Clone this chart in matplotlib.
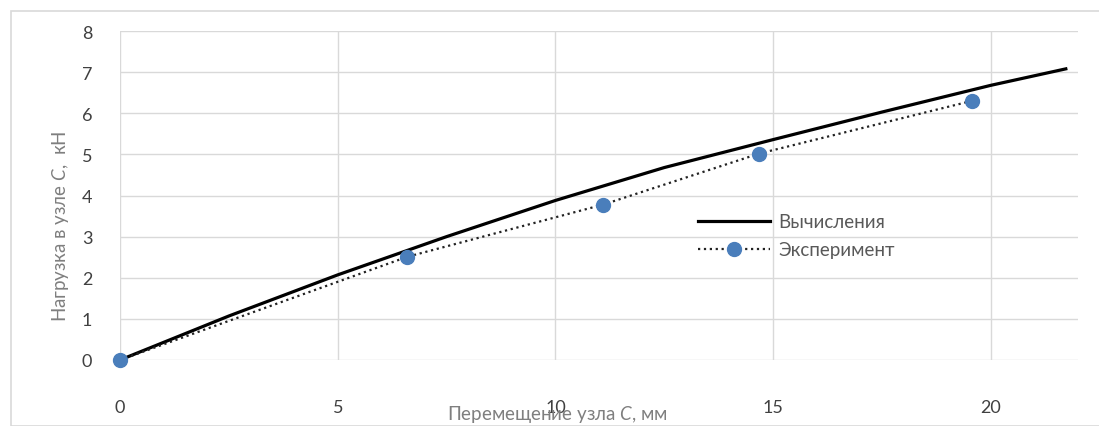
import matplotlib.pyplot as plt
from matplotlib.patches import Rectangle

plt.rcParams['font.family'] = ['Lato', 'DejaVu Sans']
plt.rcParams['mathtext.fontset'] = 'custom'
plt.rcParams['mathtext.it'] = 'Lato:italic'
plt.rcParams['mathtext.rm'] = 'Lato'

# Вычисления
x_calc = [0, 2.5, 5, 7.5, 10, 12.5, 15, 17.5, 20, 21.72]
y_calc = [0, 1.07, 2.07, 3.0, 3.88, 4.68, 5.36, 6.03, 6.68, 7.08]

# Эксперимент
x_exp = [0, 6.6, 11.1, 14.68, 19.56]
y_exp = [0, 2.51, 3.78, 5.02, 6.3]

fig = plt.figure(figsize=(10.99, 4.27), dpi=100)
fig.patches.append(Rectangle((0.01, 0.0), 0.995, 0.972, transform=fig.transFigure,
                             fill=False, edgecolor='#d9d9d9', linewidth=1.2))
ax = fig.add_axes([0.1092, 0.1546, 0.8717, 0.7704])

ax.plot(x_calc, y_calc, color='black', linewidth=2.3, label='Вычисления', zorder=3)
ax.plot(x_exp, y_exp, color='#222222', linestyle=':', linewidth=1.6,
        marker='o', markersize=10, markerfacecolor='#4a7ebb', markeredgecolor='#4a7ebb',
        label='Эксперимент', zorder=4)

ax.set_xlim(0, 22)
ax.set_ylim(0, 8)
ax.set_xticks([0, 5, 10, 15, 20])
ax.set_yticks(range(0, 9))
ax.grid(True, color='#d9d9d9', linewidth=1)
ax.set_axisbelow(True)
for s in ax.spines.values():
    s.set_visible(False)
ax.tick_params(length=0, labelsize=13, labelcolor='#404040')
ax.tick_params(axis='x', pad=28)
ax.tick_params(axis='y', pad=20)
for ln in ax.lines:
    ln.set_clip_on(False)

fig.text(0.055, 0.47, r'Нагрузка в узле $\mathit{C}$,  кН', rotation=90,
         ha='center', va='center', fontsize=13.5, color='#7f7f7f')
fig.text(0.507, 0.03, r'Перемещение узла $\mathit{C}$, мм',
         ha='center', va='center', fontsize=13.5, color='#7f7f7f')

ax.legend(loc='upper left', bbox_to_anchor=(0.594, 0.474), frameon=False,
          fontsize=13.5, handlelength=3.8, handletextpad=0.45, labelspacing=0.57,
          labelcolor='#595959', borderpad=0)

fig.savefig('out.png', dpi=100)
